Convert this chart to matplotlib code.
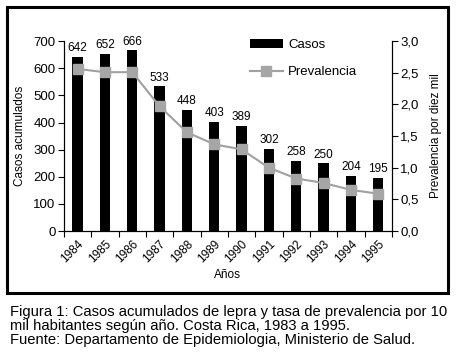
import matplotlib
matplotlib.use('Agg')
import matplotlib.pyplot as plt
from matplotlib.patches import Rectangle
from matplotlib.ticker import FuncFormatter

anios = ['1984', '1985', '1986', '1987', '1988', '1989', '1990', '1991', '1992', '1993', '1994', '1995']
casos = [642, 652, 666, 533, 448, 403, 389, 302, 258, 250, 204, 195]
prevalencia = [2.56, 2.51, 2.51, 1.97, 1.56, 1.37, 1.29, 1.0, 0.83, 0.76, 0.65, 0.59]

plt.rcParams['font.family'] = ['Liberation Sans', 'DejaVu Sans']

fig = plt.figure(figsize=(4.6, 3.61), dpi=100)
ax = fig.add_axes([0.139, 0.360, 0.713, 0.526])
x = list(range(len(anios)))

barras = ax.bar(x, casos, width=0.38, color='black', label='Casos')
for xi, v in zip(x, casos):
    ax.text(xi, v + 10, str(v), ha='center', va='bottom', fontsize=8.5)

ax.set_xlim(-0.5, len(anios) - 0.5)
ax.set_ylim(0, 700)
ax.set_yticks(range(0, 701, 100))
ax.set_xticks([i - 0.5 for i in range(len(anios) + 1)])
ax.set_xticklabels([])
ax.set_xticks(x, minor=True)
ax.set_xticklabels(anios, minor=True, rotation=45, ha='right', rotation_mode='anchor', fontsize=8.5)
ax.tick_params(axis='x', which='minor', length=0, pad=5)
ax.tick_params(axis='x', which='major', length=4, direction='out')
ax.tick_params(axis='y', labelsize=9.5, length=4, pad=2)
ax.spines['top'].set_visible(False)
ax.set_ylabel('Casos acumulados', fontsize=8.5, labelpad=5)
ax.set_xlabel('Años', fontsize=8.5, labelpad=3)

ax2 = ax.twinx()
linea, = ax2.plot(x, prevalencia, color='#a0a0a0', lw=1.5, marker='s', markersize=7.2,
                  markerfacecolor='#a6a6a6', markeredgecolor='#a6a6a6', label='Prevalencia')
ax2.set_ylim(0, 3.0)
ax2.set_yticks([0, 0.5, 1.0, 1.5, 2.0, 2.5, 3.0])
ax2.yaxis.set_major_formatter(FuncFormatter(lambda v, p: f'{v:.1f}'.replace('.', ',')))
ax2.tick_params(axis='y', labelsize=9.5, length=4, pad=2)
ax2.spines['top'].set_visible(False)
ax2.set_ylabel('Prevalencia por diez mil', fontsize=8.5, labelpad=8)

ax2.legend([barras, linea], ['Casos', 'Prevalencia'], loc='upper left', frameon=False,
           fontsize=9.5, bbox_to_anchor=(0.567, 1.01), borderpad=0, borderaxespad=0,
           handlelength=2.5, handletextpad=0.4, labelspacing=1.1)

fig.patches.append(Rectangle((7 / 460, 1 - 293 / 361), 441 / 460, 286 / 361, transform=fig.transFigure,
                             fill=False, edgecolor='black', lw=2.2))

caption = ('Figura 1: Casos acumulados de lepra y tasa de prevalencia por 10\n'
           'mil habitantes según año. Costa Rica, 1983 a 1995.\n'
           'Fuente: Departamento de Epidemiologia, Ministerio de Salud.')
fig.text(10 / 460, 1 - 305 / 361, caption, ha='left', va='top', fontsize=10.6,
         linespacing=0.98)

fig.savefig('out.png', dpi=100)
